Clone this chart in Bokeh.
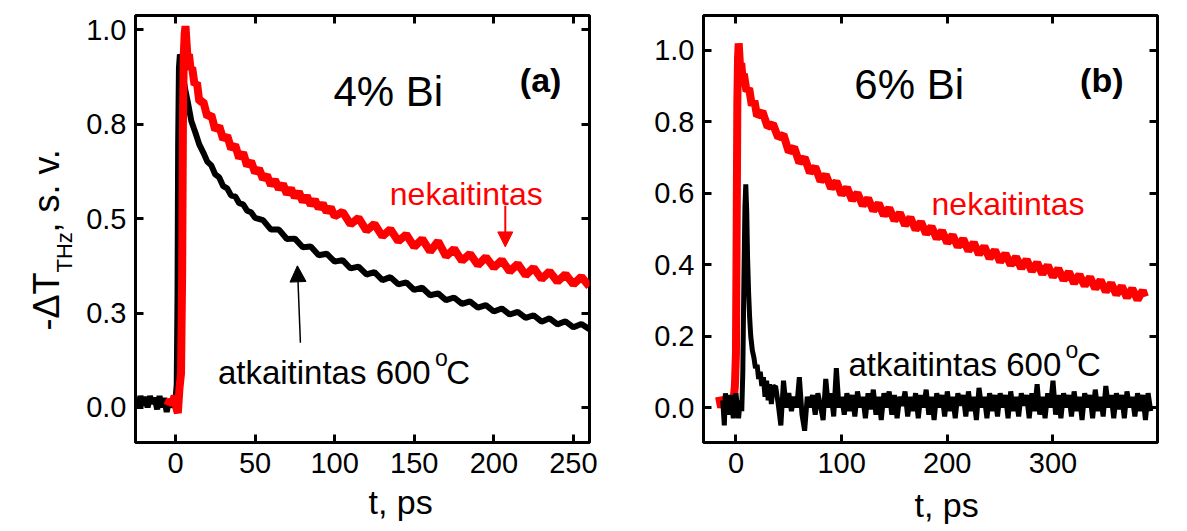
import math
from bokeh.plotting import figure
from bokeh.models import (Range1d, FixedTicker, LinearAxis, Label, Arrow,
                          NormalHead, CustomJSTickFormatter, Title)
from bokeh.layouts import row
from bokeh.embed import file_html
from bokeh.resources import INLINE

FONT = "Liberation Sans"

# ---------------- panel (a): 4% Bi ----------------
a_xticks = [0, 50, 100, 150, 200, 250]
a_yticks = [0, 0.25, 0.5, 0.75, 1.0]

a_black_t = [-25, -23.5, -22, -20.5, -19, -17.5, -16, -14.5, -13, -11.5,
             -10, -8.5, -7, -5.5, -4, -2.5, -1, 0, 0.8, 1.3,
             1.7, 2.2, 2.8, 3.6, 4.5, 6, 7.7, 10, 12.5, 15,
             17.5, 20, 22.5, 25, 27.5, 30, 32.5, 35, 37.5, 40,
             42.5, 45, 47.5, 50, 55, 60, 65, 70, 75, 80,
             85, 90, 95, 100, 105, 110, 115, 120, 125, 130,
             135, 140, 145, 150, 155, 160, 165, 170, 175, 180,
             185, 190, 195, 200, 205, 210, 215, 220, 225, 230,
             235, 240, 245, 250, 255, 260]
a_black_v = [0.02, 0.0, 0.03, 0.005, 0.028, 0.0, 0.03, 0.01, 0.025, -0.005,
             0.03, 0.0, 0.025, -0.012, 0.02, 0.0, 0.03, 0.02, 0.06, 0.3,
             0.7, 0.9, 0.935, 0.925, 0.885, 0.845, 0.81, 0.758, 0.728, 0.696,
             0.675, 0.651, 0.641, 0.617, 0.609, 0.586, 0.58, 0.561, 0.559, 0.541,
             0.538, 0.521, 0.517, 0.502, 0.496, 0.471, 0.471, 0.446, 0.447, 0.424,
             0.426, 0.403, 0.407, 0.386, 0.39, 0.368, 0.373, 0.352, 0.358, 0.337,
             0.345, 0.326, 0.331, 0.311, 0.317, 0.297, 0.302, 0.284, 0.291, 0.274,
             0.281, 0.264, 0.271, 0.254, 0.262, 0.246, 0.253, 0.237, 0.244, 0.227,
             0.236, 0.22, 0.228, 0.212, 0.221, 0.207]

a_red_t = [-5, -3.5, -2, -0.5, 0.5, 1.5, 2.5, 3.5, 4.2, 4.7,
           5.2, 5.8, 6.3, 6.9, 7.5, 8.5, 9.5, 10.5, 12, 13.5,
           15, 17.5, 20, 22.5, 25, 27.5, 30, 32.5, 35, 37.5,
           40, 42.5, 45, 47.5, 50, 52.5, 55, 57.5, 60, 62.5,
           65, 67.5, 70, 72.5, 75, 77.5, 80, 82.5, 85, 87.5,
           90, 92.5, 95, 97.5, 100, 105, 110, 115, 120, 125,
           130, 135, 140, 145, 150, 155, 160, 165, 170, 175,
           180, 185, 190, 195, 200, 205, 210, 215, 220, 225,
           230, 235, 240, 245, 250, 255, 260]
a_red_v = [0.005, 0.02, 0.01, 0.03, 0.0, -0.015, 0.05, 0.09, 0.35, 0.75,
           0.93, 0.99, 1.01, 0.97, 0.93, 0.935, 0.895, 0.9, 0.855, 0.86,
           0.81, 0.81, 0.77, 0.775, 0.735, 0.745, 0.71, 0.72, 0.685, 0.695,
           0.66, 0.675, 0.64, 0.652, 0.622, 0.632, 0.605, 0.615, 0.588, 0.603,
           0.578, 0.592, 0.565, 0.58, 0.556, 0.571, 0.545, 0.56, 0.536, 0.55,
           0.527, 0.54, 0.517, 0.53, 0.506, 0.518, 0.485, 0.502, 0.468, 0.486,
           0.453, 0.472, 0.44, 0.458, 0.425, 0.446, 0.413, 0.44, 0.4, 0.42,
           0.388, 0.407, 0.377, 0.398, 0.37, 0.39, 0.36, 0.38, 0.35, 0.37,
           0.34, 0.36, 0.333, 0.353, 0.326, 0.346, 0.32]

# ---------------- panel (b): 6% Bi ----------------
b_xticks = [0, 100, 200, 300, 400]
b_yticks = [0, 0.2, 0.4, 0.6, 0.8, 1.0]

b_red_t = [-16, -14, -12, -10, -8, -6, -4, -2, -1, 0,
           0.7, 1.3, 2, 2.6, 3.2, 4, 5, 6, 7.5, 10,
           12.5, 15, 17.5, 20, 25, 30, 35, 40, 45, 50,
           55, 60, 65, 70, 75, 80, 85, 90, 95, 100,
           105, 110, 115, 120, 125, 130, 135, 140, 145, 150,
           155, 160, 165, 170, 175, 180, 185, 190, 195, 200,
           205, 210, 215, 220, 225, 230, 235, 240, 245, 250,
           255, 260, 265, 270, 275, 280, 285, 290, 295, 300,
           305, 310, 315, 320, 325, 330, 335, 340, 345, 350,
           355, 360, 365, 370, 375, 380, 385, 387]
b_red_v = [0.03, 0.0, 0.025, 0.01, 0.02, 0.0, 0.02, 0.03, 0.06, 0.15,
           0.5, 0.85, 0.98, 1.02, 0.99, 0.95, 0.965, 0.93, 0.934, 0.886,
           0.894, 0.846, 0.859, 0.816, 0.829, 0.786, 0.794, 0.756, 0.764, 0.716,
           0.729, 0.686, 0.70, 0.658, 0.674, 0.634, 0.652, 0.614, 0.633, 0.596,
           0.616, 0.581, 0.601, 0.566, 0.586, 0.551, 0.572, 0.538, 0.559, 0.524,
           0.545, 0.511, 0.532, 0.498, 0.52, 0.486, 0.507, 0.473, 0.495, 0.461,
           0.483, 0.45, 0.472, 0.439, 0.462, 0.429, 0.451, 0.418, 0.441, 0.408,
           0.431, 0.399, 0.422, 0.39, 0.414, 0.382, 0.406, 0.374, 0.398, 0.366,
           0.389, 0.357, 0.38, 0.348, 0.372, 0.341, 0.365, 0.333, 0.357, 0.325,
           0.348, 0.316, 0.34, 0.308, 0.333, 0.302, 0.328, 0.31]

b_black_t = [-12.5, -11, -10, -7.5, -5, -2.5, 0, 2.5, 4, 5.5,
             6.5, 7.5, 8.5, 9.3, 10.2, 11, 12, 13, 14, 15.5,
             17, 18.5, 20, 21.5, 23, 24.5, 26, 27.5, 29, 30.5,
             32, 33.5, 35,
             37.5, 40, 42.5, 45, 47.5, 50, 52.5, 55, 57.5, 60,
             62.5, 65, 67.5, 70, 72.5, 75, 77.5, 80, 82.5, 85,
             87.5, 90, 92.5, 95, 97.5, 100, 102.5, 105, 107.5, 110,
             112.5, 115, 117.5, 120, 122.5, 125, 127.5, 130, 132.5, 135,
             137.5, 140, 142.5, 145, 147.5, 150, 152.5, 155, 157.5, 160,
             162.5, 165, 167.5, 170, 172.5, 175, 177.5, 180, 182.5, 185,
             187.5, 190, 192.5, 195, 197.5, 200, 202.5, 205, 207.5, 210,
             212.5, 215, 217.5, 220, 222.5, 225, 227.5, 230, 232.5, 235,
             237.5, 240, 242.5, 245, 247.5, 250, 252.5, 255, 257.5, 260,
             262.5, 265, 267.5, 270, 272.5, 275, 277.5, 280, 282.5, 285,
             287.5, 290, 292.5, 295, 297.5, 300, 302.5, 305, 307.5, 310,
             312.5, 315, 317.5, 320, 322.5, 325, 327.5, 330, 332.5, 335,
             337.5, 340, 342.5, 345, 347.5, 350, 352.5, 355, 357.5, 360,
             362.5, 365, 367.5, 370, 372.5, 375, 377.5, 380, 382.5, 385,
             387.5, 390, 392.5]
b_black_v = [0.02, -0.05, 0.04, -0.02, 0.035, -0.03, 0.04, -0.03, 0.02, -0.01,
             0.1, 0.35, 0.56, 0.625, 0.55, 0.42, 0.32, 0.25, 0.2, 0.16,
             0.14, 0.11, 0.12, 0.08, 0.1, 0.06, 0.085, 0.03, 0.075, 0.02,
             0.065, 0.01, 0.055,
             0.06, 0.01, -0.05, 0.075, 0.0, 0.04, -0.01, 0.03, 0.0, 0.085,
             -0.02, -0.065, 0.03, 0.0, 0.035, -0.02, 0.04, 0.005, -0.035, 0.08,
             0.0, 0.04, -0.025, 0.11, 0.0, 0.03, -0.02, 0.04, -0.01, 0.035,
             -0.025, 0.045, 0.0, 0.03, -0.03, 0.04, -0.005, 0.05, -0.02, 0.03,
             -0.035, 0.04, 0.0, 0.045, -0.02, 0.035, -0.03, 0.03, 0.005, 0.045,
             -0.025, 0.03, -0.01, 0.04, -0.03, 0.035, 0.0, 0.05, -0.02, 0.03,
             -0.035, 0.04, 0.0, 0.035, -0.025, 0.045, -0.01, 0.03, -0.03, 0.04,
             0.005, 0.035, -0.025, 0.045, -0.01, 0.03, -0.035, 0.055, 0.0, 0.03,
             -0.03, 0.04, -0.01, 0.035, -0.025, 0.04, 0.0, 0.035, -0.03, 0.045,
             -0.01, 0.03, -0.025, 0.04, 0.005, 0.035, -0.03, 0.04, -0.01, 0.065,
             -0.02, 0.03, -0.03, 0.04, 0.0, 0.075, -0.02, 0.035, -0.03, 0.04,
             0.0, 0.035, -0.025, 0.045, -0.01, 0.03, -0.035, 0.04, 0.0, 0.035,
             -0.03, 0.05, -0.01, 0.03, -0.025, 0.06, 0.0, 0.035, -0.03, 0.04,
             -0.005, 0.035, -0.03, 0.045, 0.0, 0.03, -0.025, 0.04, -0.01, 0.035,
             -0.035, 0.04, -0.01]

RED = "#ff0000"


def make_fig(xr, yr, xticks, yticks, left, right, xlabel_offset, xlabel_standoff):
    p = figure(x_range=Range1d(*xr), y_range=Range1d(*yr),
               frame_width=454, frame_height=427,
               min_border_left=left, min_border_right=right,
               min_border_top=15, min_border_bottom=89,
               output_backend="svg", toolbar_location=None,
               background_fill_color="white", border_fill_color="white")
    p.xgrid.visible = False
    p.ygrid.visible = False
    p.outline_line_color = "black"
    p.outline_line_width = 3
    p.outline_line_alpha = 1
    p.add_layout(LinearAxis(), "above")
    p.add_layout(LinearAxis(), "right")
    for ax in list(p.xaxis) + list(p.yaxis):
        ax.axis_line_color = None
        ax.major_tick_in = 8
        ax.major_tick_out = 0
        ax.major_tick_line_width = 3
        ax.major_tick_line_color = "black"
        ax.minor_tick_line_color = None
        ax.major_label_text_font = FONT
        ax.major_label_text_font_size = "29px"
        ax.major_label_text_color = "black"
    for ax in p.xaxis:
        ax.ticker = FixedTicker(ticks=xticks)
        ax.major_label_standoff = 10
    for ax in p.yaxis:
        ax.ticker = FixedTicker(ticks=yticks)
        ax.major_label_standoff = 9
        ax.formatter = CustomJSTickFormatter(code="return tick.toFixed(1);")
    for ax in (p.above[0], p.right[0]):
        ax.formatter = CustomJSTickFormatter(code="return '';")
        ax.major_label_standoff = 0
    p.add_layout(Title(text="t, ps", align="left", offset=xlabel_offset,
                       text_font=FONT, text_font_size="34px",
                       text_font_style="normal", text_color="black",
                       standoff=xlabel_standoff), "below")
    return p


def lab(p, x, y, text, size, color="black", align="left", bold=False, angle=0):
    p.add_layout(Label(x=x, y=y, text=text, text_font=FONT,
                       text_font_size=size, text_color=color,
                       text_align=align, text_baseline="alphabetic",
                       text_font_style="bold" if bold else "normal",
                       angle=angle))


# ---- y-axis title strip (pixel coordinates, y upward) ----
STRIP_W = 82
py = figure(frame_width=STRIP_W, frame_height=531, title=None,
            x_range=Range1d(0, STRIP_W), y_range=Range1d(0, 531),
            min_border=0, x_axis_type=None, y_axis_type=None,
            output_backend="svg", toolbar_location=None,
            background_fill_color="white", border_fill_color="white")
py.grid.visible = False
py.outline_line_color = None
lab(py, 46, 216, "-ΔT", "36px", angle=math.pi / 2)
lab(py, 64, 274, "THz", "22px", angle=math.pi / 2)
lab(py, 46, 314, ", s. v.", "36px", angle=math.pi / 2)

# ---- figure a ----
pa = make_fig((-25.1, 260.1), (-0.093, 1.038), a_xticks, a_yticks,
              135 - STRIP_W, 31, 233, 10)
pa.line(a_black_t, a_black_v, line_color="black", line_width=6)
pa.line(a_red_t, a_red_v, line_color=RED, line_width=8)

lab(pa, 133.7, 0.8365, "4% Bi", "42px", align="center")
lab(pa, 229.4, 0.866, "(a)", "34px", align="center", bold=True)
lab(pa, 182.7, 0.565, "nekaitintas", "32px", color=RED, align="center")
lab(pa, 93.5, 0.092, "atkaitintas 600", "33px", align="center")
lab(pa, 167.0, 0.1317, "o", "23px", align="center")
lab(pa, 170.1, 0.092, "C", "33px")

pa.add_layout(Arrow(x_start=78.5, y_start=0.171, x_end=76.6, y_end=0.375,
                    line_color="black", line_width=1.5,
                    end=NormalHead(size=16, fill_color="black", line_color="black")))
pa.add_layout(Arrow(x_start=207.2, y_start=0.534, x_end=207.2, y_end=0.425,
                    line_color=RED, line_width=2,
                    end=NormalHead(size=15, fill_color=RED, line_color=RED)))

# ---- figure b ----
pb = make_fig((-30.7, 398.9), (-0.098, 1.098), b_xticks, b_yticks, 83, 30, 211, 17)
pb.line(b_red_t, b_red_v, line_color=RED, line_width=8)
pb.line(b_black_t, b_black_v, line_color="black", line_width=5)

lab(pb, 163.9, 0.9047, "6% Bi", "42px", align="center")
lab(pb, 346.2, 0.916, "(b)", "34px", align="center", bold=True)
lab(pb, 257.5, 0.571, "nekaitintas", "32px", color=RED, align="center")
lab(pb, 207.2, 0.1197, "atkaitintas 600", "33px", align="center")
lab(pb, 318.0, 0.162, "o", "23px", align="center")
lab(pb, 322.7, 0.1197, "C", "33px")

layout = row(py, pa, pb)
open("out.html", "w").write(file_html(layout, INLINE))
